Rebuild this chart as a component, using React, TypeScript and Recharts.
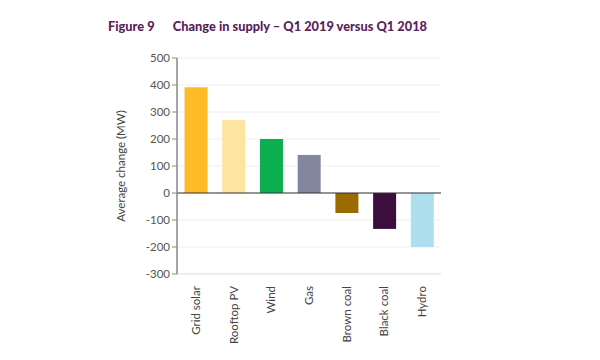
import React from "react";
import { BarChart, Bar, XAxis, YAxis, CartesianGrid, ReferenceLine, Cell } from "recharts";

const categories = ["Grid solar", "Rooftop PV", "Wind", "Gas", "Brown coal", "Black coal", "Hydro"];
const changes = [392, 270, 200, 141, -74, -133, -200];
const barColors = ["#FDBB27", "#FEE4A1", "#0BAF4F", "#83869F", "#9B6B00", "#3B0E3E", "#AEDFEF"];
const yTicks = [-300, -200, -100, 0, 100, 200, 300, 400, 500];

const data = categories.map((name, i) => ({ name, value: changes[i] }));

const FONT = "Lato, 'Liberation Sans', sans-serif";

const RotatedTick = (props: any) => {
  const { x, y, payload } = props;
  return (
    <g transform={`translate(${x},${y})`}>
      <text transform="rotate(-90)" textAnchor="end" dy={4} x={-4} fill="#444" fontSize={11.5} fontFamily={FONT}>
        {payload.value}
      </text>
    </g>
  );
};

export default function App() {
  return (
    <div style={{ position: "absolute", left: 0, top: 0, width: 600, height: 360, background: "#fff" }}>
      <div
        style={{
          position: "absolute",
          left: 108,
          top: 18,
          fontFamily: FONT,
          fontWeight: 900,
          fontSize: 12.8,
          color: "#5A1F5C",
          whiteSpace: "pre",
        }}
      >
        {"Figure 9      Change in supply – Q1 2019 versus Q1 2018"}
      </div>
      <BarChart
        width={600}
        height={360}
        data={data}
        margin={{ top: 58, right: 159, bottom: 16, left: 117 }}
        barCategoryGap="20%"
      >
        <CartesianGrid vertical={false} stroke="#EEEEEE" />
        <XAxis
          dataKey="name"
          interval={0}
          height={70}
          tick={<RotatedTick />}
          tickLine={false}
          axisLine={{ stroke: "#E3E3E3" }}
        />
        <YAxis
          width={60}
          domain={[-300, 500]}
          ticks={yTicks}
          interval={0}
          tick={{ fontSize: 11.5, fill: "#555", fontFamily: FONT }}
          tickLine={{ stroke: "#888" }}
          tickSize={5}
          axisLine={{ stroke: "#888", strokeWidth: 1.5 }}
          label={{
            value: "Average change (MW)",
            angle: -90,
            position: "insideLeft",
            offset: 0,
            dx: 4,
            style: { textAnchor: "middle", fontSize: 11.5, fill: "#444", fontFamily: FONT },
          }}
        />
        <ReferenceLine y={0} stroke="#333" strokeWidth={1.2} />
        <Bar dataKey="value" isAnimationActive={false}>
          {data.map((d, i) => (
            <Cell key={d.name} fill={barColors[i]} />
          ))}
        </Bar>
      </BarChart>
    </div>
  );
}
